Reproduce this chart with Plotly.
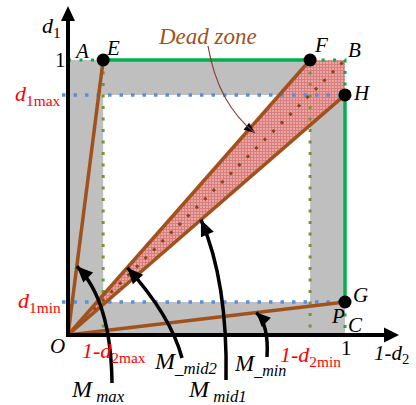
import plotly.graph_objects as go

# Normalised bounds of the operating region
d1_min = 0.12
d1_max = 0.873
one_minus_d2_max = 0.127
one_minus_d2_min = 0.874

# Named corner / vertex points
O = (0.0, 0.0)
A = (0.0, 1.0)
E = (one_minus_d2_max, 1.0)
F = (one_minus_d2_min, 1.0)
B = (1.0, 1.0)
Hp = (1.0, d1_max)
G = (1.0, d1_min)
C = (1.0, 0.0)

# Page geometry: where the origin lands and how many pixels per unit
W, HGT = 416, 405
X0, Y0 = 68, 335
UX, UY = 277, 275


def to_data(px, py):
    return (px - X0) / UX, (Y0 - py) / UY


def to_px(x, y):
    return X0 + x * UX, Y0 - y * UY


SERIF = "Liberation Serif"
BROWN = "#A0521C"
GREEN = "#00B050"
OLIVE = "#77933C"
BLUE = "#5B8FD9"
GRAY = "#BFBFBF"
RED = "#FF0000"

fig = go.Figure()


def seg(pts, color, width, dash="solid"):
    fig.add_trace(go.Scatter(
        x=[p[0] for p in pts], y=[p[1] for p in pts], mode="lines",
        line=dict(color=color, width=width, dash=dash),
        hoverinfo="skip", showlegend=False))


def poly(pts, **kw):
    xs = [p[0] for p in pts] + [pts[0][0]]
    ys = [p[1] for p in pts] + [pts[0][1]]
    fig.add_trace(go.Scatter(x=xs, y=ys, mode="lines", fill="toself",
                             hoverinfo="skip", showlegend=False, **kw))


# Gray band between the unit square and the inner rectangle
poly([O, C, B, A], fillcolor=GRAY, line=dict(width=0))
poly([(one_minus_d2_max, d1_min), (one_minus_d2_min, d1_min),
      (one_minus_d2_min, d1_max), (one_minus_d2_max, d1_max)],
     fillcolor="white", line=dict(width=0))

# Dead zone wedge between O-F and O-H
poly([O, F, B, Hp], fillcolor="#D25A5A",
     fillpattern=dict(shape="+", fgcolor="#C03A36", bgcolor="#F2C2C2",
                      size=3, solidity=0.72),
     line=dict(width=0))

# Dotted guide lines
seg([(one_minus_d2_max, 1), (one_minus_d2_max, 0)], OLIVE, 3, "3px,8.5px")
seg([(one_minus_d2_min, 1), (one_minus_d2_min, 0)], OLIVE, 3, "3px,8.5px")
x_start = to_data(62, 0)[0]
seg([(x_start, d1_max), (1, d1_max)], BLUE, 3.5, "3.5px,8px")
seg([(x_start, d1_min), (1, d1_min)], BLUE, 3.5, "3.5px,8px")
seg([A, E], GREEN, 3, "3px,8.5px")
seg([F, B, Hp], GREEN, 3, "3px,8.5px")
seg([G, C], GREEN, 3, "3px,8.5px")

# Solid green boundary
seg([E, F], GREEN, 3.5)
seg([Hp, G], GREEN, 3.5)

# Diagonal inside the dead zone
seg([O, B], "#8B4513", 3, "3px,9px")

# Operating lines from the origin
for P in (E, F, Hp, G):
    seg([O, P], BROWN, 3.5)


def tri(tip_px, dir_px, length, half):
    tx, ty = tip_px
    dx, dy = dir_px
    n = (dx * dx + dy * dy) ** 0.5
    dx, dy = dx / n, dy / n
    bx, by = tx - dx * length, ty - dy * length
    px_, py_ = -dy, dx
    pts = [(tx, ty), (bx + px_ * half, by + py_ * half),
           (bx - px_ * half, by - py_ * half)]
    return [to_data(*p) for p in pts]


# Axes with arrowheads
xa_end = to_data(386, Y0)
ya_end = to_data(X0, 19)
seg([to_data(66, Y0), xa_end], "black", 4)
seg([to_data(X0, 337), ya_end], "black", 4)
poly(tri((399, Y0), (1, 0), 15, 7.5), fillcolor="black", line=dict(width=0))
poly(tri((X0, 6), (0, -1), 15, 7), fillcolor="black", line=dict(width=0))

# Vertex markers
fig.add_trace(go.Scatter(
    x=[E[0], F[0], Hp[0], G[0]], y=[E[1], F[1], Hp[1], G[1]],
    mode="markers", marker=dict(color="black", size=13),
    hoverinfo="skip", showlegend=False))


# Curved callout arrows (quadratic curves in page pixels)
def callout(start_px, ctrl_px, tip_px, color, width, head_len, head_half):
    s = to_data(*start_px)
    c = to_data(*ctrl_px)
    t = to_data(*tip_px)
    fig.add_shape(type="path",
                  path=f"M {s[0]},{s[1]} Q {c[0]},{c[1]} {t[0]},{t[1]}",
                  line=dict(color=color, width=width), xref="x", yref="y")
    d = (tip_px[0] - ctrl_px[0], tip_px[1] - ctrl_px[1])
    poly(tri(tip_px, d, head_len, head_half), fillcolor="black",
         line=dict(width=0))


def along(P, t):
    return to_px(P[0] * t, P[1] * t)


callout((112, 383), (111, 300), along(E, 0.25), "black", 3.5, 16, 7)
callout((182, 358), (171, 316), along(F, 0.245), "black", 3.5, 16, 7)
callout((226, 380), (228, 282), along(Hp, 0.48), "black", 3.5, 16, 7)
callout((267, 357), (269, 325), along(G, 0.68), "black", 3.5, 14, 6.5)
callout((208, 46), (218, 104), (255, 133), "#8B3A3A", 1.2, 11, 4.5)


def label(text, at, dx, dy, size=20, color="black"):
    fig.add_annotation(x=at[0], y=at[1], xref="x", yref="y", text=text,
                       showarrow=False, xanchor="center", yanchor="middle",
                       xshift=dx, yshift=dy,
                       font=dict(family=SERIF, size=size, color=color))


label("<i>d</i><sub>1</sub>", ya_end, -17, -8, size=22)
label("1", A, -8, 0, size=21)
label("<i>A</i>", A, 13, 9, size=21)
label("<i>E</i>", E, 10, 12, size=21)
label("<i>F</i>", F, 11, 15, size=21)
label("<i>B</i>", B, 9, 10, size=21)
label("<i>H</i>", Hp, 17, 2, size=21)
label("<i>G</i>", G, 15, 7, size=21)
label("<i>P</i>", G, -7, -14, size=21)
label("<i>C</i>", C, 10, 10, size=21)
label("<i>O</i>", O, -11, -11, size=21)
label("1", C, 1, -13, size=21)
label("<i>1-d</i><sub>2</sub>", xa_end, 5, -19, size=21)
label("<i>1-d</i><sub>2max</sub>", (one_minus_d2_max, 0), 11, -17, size=22, color=RED)
label("<i>1-d</i><sub>2min</sub>", (one_minus_d2_min, 0), 0, -21, size=22, color=RED)
label("<i>d</i><sub>1max</sub>", (0, d1_max), -31, 0, size=22, color=RED)
label("<i>d</i><sub>1min</sub>", (0, d1_min), -29, 0, size=22, color=RED)
fig.add_annotation(x=to_data(207, 0)[0], y=1, xref="x", yref="y",
                   text="<i>Dead zone</i>", showarrow=False, yshift=24,
                   font=dict(family=SERIF, size=23, color=BROWN))

# Callout captions
label("<i>M</i><sub><i> max</i></sub>", to_data(112, 383), -14, -8, size=24)
label("<i>M</i><sub><i>_mid2</i></sub>", to_data(182, 358), 4, -5, size=24)
label("<i>M</i><sub><i> mid1</i></sub>", to_data(226, 380), -9, -11, size=24)
label("<i>M</i><sub><i>_min</i></sub>", to_data(267, 357), -7, -8, size=23)

fig.update_layout(
    width=W, height=HGT, margin=dict(l=0, r=0, t=0, b=0),
    plot_bgcolor="white", paper_bgcolor="white", showlegend=False,
    xaxis=dict(range=[-X0 / UX, (W - X0) / UX], visible=False, fixedrange=True),
    yaxis=dict(range=[-(HGT - Y0) / UY, Y0 / UY], visible=False, fixedrange=True),
)

fig.write_html("out.html")
